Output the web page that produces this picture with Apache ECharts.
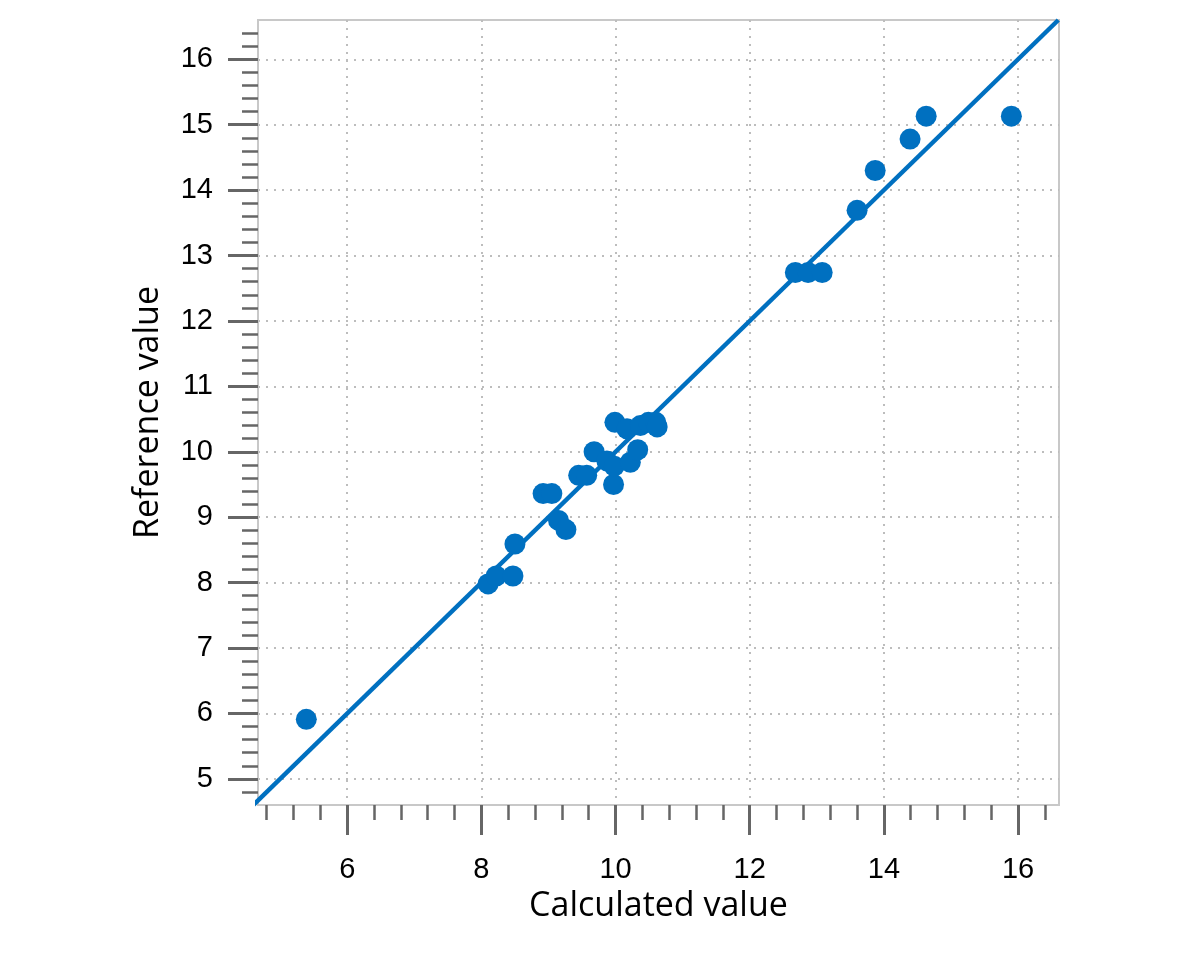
<!DOCTYPE html>
<html>
<head>
<meta charset="utf-8">
<script src="https://cdn.jsdelivr.net/npm/echarts@6/dist/echarts.min.js"></script>
<style>
    html, body { margin: 0; padding: 0; background: #fff; }
    #chart1 { width: 1200px; height: 960px; }
</style>
</head>
<body>
<div id="chart1"></div>
<script>
// calculated vs reference values
var calcX = [5.39, 8.10, 8.22, 8.47, 8.50, 8.92, 9.05, 9.15, 9.26, 9.45, 9.57,
    9.68, 9.87, 9.97, 9.98, 10.22, 10.33, 9.99, 10.17, 10.37, 10.49, 10.60, 10.62,
    12.68, 12.87, 13.08, 13.60, 13.87, 14.39, 14.63, 15.90];
var refY = [5.91, 7.98, 8.10, 8.10, 8.59, 9.36, 9.36, 8.95, 8.81, 9.64, 9.64,
    10.00, 9.86, 9.50, 9.78, 9.84, 10.03, 10.45, 10.35, 10.40, 10.45, 10.45, 10.38,
    12.74, 12.74, 12.74, 13.69, 14.30, 14.78, 15.13, 15.13];
// y = x reference line ends
var lineEnds = [4.6, 16.6];
var xTicks = [6, 8, 10, 12, 14, 16];
var yTicks = [5, 6, 7, 8, 9, 10, 11, 12, 13, 14, 15, 16];

var points = calcX.map(function (x, i) { return [x, refY[i]]; });
var linePts = lineEnds.map(function (v) { return [v, v]; });

var blue = '#0070C0';
var tickColor = '#666666';
var boxColor = '#c8c8c8';

var option = {
    animation: false,
    backgroundColor: '#fff',
    grid: {
        left: 258, top: 20, right: 141, bottom: 155,
        show: true, borderColor: boxColor, borderWidth: 2
    },
    xAxis: {
        type: 'value',
        min: 4.67, max: 16.61,
        splitNumber: 6,
        name: 'Calculated value',
        nameLocation: 'middle',
        nameGap: 84,
        nameTextStyle: { fontSize: 34, fontFamily: 'Open Sans', color: '#000' },
        axisLine: { show: true, onZero: false, lineStyle: { color: boxColor, width: 2 } },
        axisTick: { show: true, customValues: xTicks, length: 30, lineStyle: { color: tickColor, width: 3 } },
        minorTick: { show: true, splitNumber: 5, length: 15, lineStyle: { color: tickColor, width: 2.5 } },
        axisLabel: { customValues: xTicks, fontSize: 29, fontFamily: 'Liberation Sans', color: '#000', margin: 50 },
        splitLine: { show: true, lineStyle: { type: [2, 6], color: '#bdbdbd', width: 2 } }
    },
    yAxis: {
        type: 'value',
        min: 4.6, max: 16.6,
        splitNumber: 12,
        name: 'Reference value',
        nameLocation: 'middle',
        nameGap: 93,
        nameTextStyle: { fontSize: 34, fontFamily: 'Open Sans', color: '#000' },
        axisLine: { show: true, onZero: false, lineStyle: { color: boxColor, width: 2 } },
        axisTick: { show: true, customValues: yTicks, length: 30, lineStyle: { color: tickColor, width: 3 } },
        minorTick: { show: true, splitNumber: 5, length: 16, lineStyle: { color: tickColor, width: 2.5 } },
        axisLabel: { customValues: yTicks, fontSize: 29, fontFamily: 'Liberation Sans', color: '#000', margin: 45 },
        splitLine: { show: true, lineStyle: { type: [2, 6], color: '#bdbdbd', width: 2 } }
    },
    series: [
        {
            type: 'line',
            data: linePts,
            showSymbol: false,
            symbol: 'none',
            lineStyle: { color: blue, width: 4.5 },
            z: 2
        },
        {
            type: 'scatter',
            data: points,
            symbolSize: 21,
            itemStyle: { color: blue, opacity: 1 },
            z: 3
        }
    ]
};

var chart = echarts.init(document.getElementById('chart1'));
chart.setOption(option);
</script>
</body>
</html>
